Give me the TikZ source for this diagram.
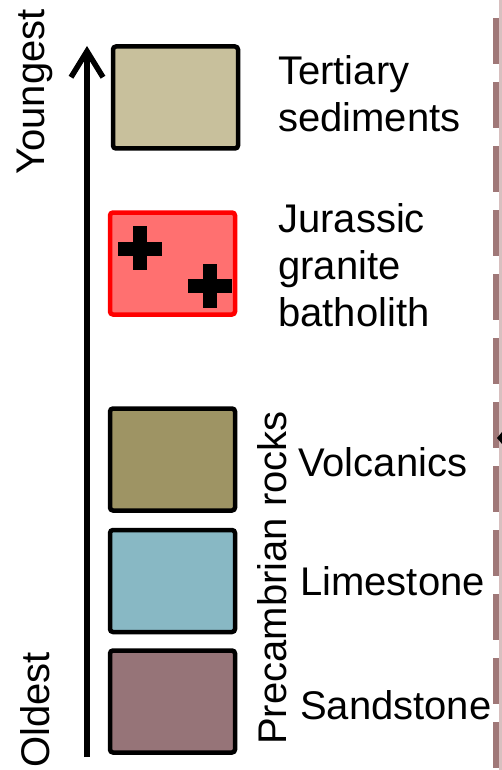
\documentclass[tikz,border=0pt]{standalone}
\usepackage{fontspec}
\setmainfont{Liberation Sans}
\usetikzlibrary{arrows.meta}
\definecolor{tertc}{HTML}{C8C09C}
\definecolor{jurc}{HTML}{FF7070}
\definecolor{volc}{HTML}{9E9464}
\definecolor{limc}{HTML}{88B8C4}
\definecolor{sandc}{HTML}{967478}
\definecolor{dashc}{HTML}{A07878}
\definecolor{edgec}{HTML}{D8C0C0}
\tikzset{
  layer/.style={draw=black, line width=4.5pt, rounded corners=3pt, minimum width=125pt, minimum height=102pt, inner sep=0pt},
  lbl/.style={anchor=west, inner sep=0pt, align=left, font=\fontsize{40}{47}\selectfont},
  axislbl/.style={rotate=90, inner sep=0pt, font=\fontsize{40}{47}\selectfont},
  crossbar/.style={fill=black, draw=none}
}
\begin{document}
\begin{tikzpicture}[x=1pt,y=-1pt]
\useasboundingbox (0,0) rectangle (502,770);
% right edge
\fill[edgec] (498.5,0) rectangle (502,770);
\draw[dashc, line width=6pt, dash pattern=on 46pt off 18pt, dash phase=-18pt] (496,0) -- (496,770);
\fill[black] (502,432) -- (497,438) -- (502,444) -- cycle;
% layers
\node[layer, fill=tertc] (tert) at (175.5,97.5) {};
\node[layer, fill=jurc, draw=red] (jur) at (172.5,263.5) {};
\node[layer, fill=volc] (volc) at (172.5,459.5) {};
\node[layer, fill=limc] (lim) at (172.5,581) {};
\node[layer, fill=sandc] (sand) at (172.5,701.5) {};
% crosses
\fill[crossbar] (118,241.5) rectangle (162,255.5);
\fill[crossbar] (133,226) rectangle (147,270);
\fill[crossbar] (188,279) rectangle (232,293);
\fill[crossbar] (203,264) rectangle (217,308);
% labels
\node[lbl] (tl) at (278,93.5) {Tertiary\\sediments};
\node[lbl] (jl) at (278,265) {Jurassic\\granite\\batholith};
\node[lbl] (vl) at (298,462) {Volcanics};
\node[lbl] (ll) at (300,581) {Limestone};
\node[lbl] (sl) at (300,705) {Sandstone};
% axis
\coordinate (abot) at (87,757);
\coordinate (atop) at (87,46);
\draw[line width=5.5pt, -{Straight Barb[length=26pt, width=32pt, line width=5.5pt]}] (abot) -- (atop);
\node[axislbl] (young) at (35,92) {Youngest};
\node[axislbl] (old) at (35,710) {Oldest};
\node[axislbl] (pre) at (272,578) {Precambrian rocks};
\end{tikzpicture}
\end{document}
